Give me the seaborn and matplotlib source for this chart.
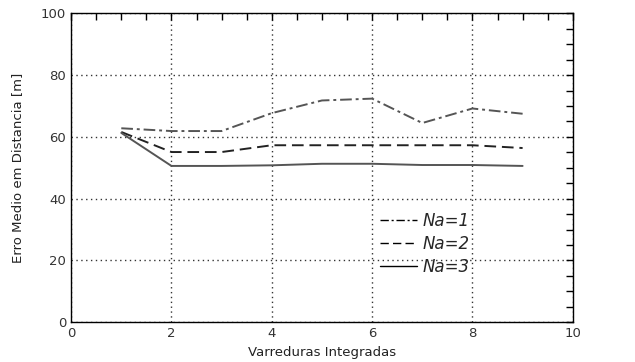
import matplotlib as mpl
import matplotlib.pyplot as plt
import pandas as pd
import seaborn as sns
from matplotlib.ticker import MultipleLocator

sns.set_theme(style="white")
plt.rcParams['font.family'] = ['DejaVu Sans']

varreduras = [1, 2, 3, 4, 5, 6, 7, 8, 9]
na1 = [62.8, 61.9, 61.9, 67.7, 71.8, 72.4, 64.5, 69.2, 67.5]
na2 = [61.6, 55.1, 55.1, 57.3, 57.3, 57.3, 57.3, 57.3, 56.4]
na3 = [61.3, 50.6, 50.6, 50.8, 51.3, 51.3, 50.9, 50.9, 50.6]
labels = ['Na=1', 'Na=2', 'Na=3']

series = {'Na=1': na1, 'Na=2': na2, 'Na=3': na3}
styles = {'Na=1': ((0, (6, 2, 1.5, 2)), '#555555'),
          'Na=2': ((0, (6, 3)), '#222222'),
          'Na=3': ('-', '#555555')}

df = pd.concat([pd.DataFrame({'x': varreduras, 'y': v, 'serie': k}) for k, v in series.items()])

fig, ax = plt.subplots(figsize=(6.35, 3.62), dpi=100)
fig.subplots_adjust(left=0.112, right=0.902, top=0.963, bottom=0.11)

for k in labels:
    ls, c = styles[k]
    sub = df[df['serie'] == k]
    sns.lineplot(x='x', y='y', data=sub, ax=ax, color=c, linestyle=ls, linewidth=1.4, label=k)

ax.set_xlim(0, 10)
ax.set_ylim(0, 100)
ax.xaxis.set_major_locator(MultipleLocator(2))
ax.xaxis.set_minor_locator(MultipleLocator(0.5))
ax.yaxis.set_major_locator(MultipleLocator(20))
ax.yaxis.set_minor_locator(MultipleLocator(5))
ax.grid(True, which='major', color='#333333', linestyle=(0, (1, 2.5)), linewidth=1)
ax.tick_params(which='both', direction='in', top=True, right=True, length=5, width=1,
               color='black', labelsize=9.5, labelcolor='#333333')
for s in ax.spines.values():
    s.set_color('black')
    s.set_linewidth(1)

ax.set_xlabel('Varreduras Integradas', fontsize=9.5, labelpad=4, color='#222222')
ax.set_ylabel('Erro Medio em Distancia [m]', fontsize=9.5, labelpad=12, color='#222222')

leg = ax.legend(loc='upper left', bbox_to_anchor=(0.6, 0.385), frameon=False,
                prop={'style': 'italic', 'size': 12}, handlelength=2.2,
                handletextpad=0.3, labelspacing=0.3, borderpad=0)
for h in leg.get_lines():
    h.set_color('black')
    h.set_linewidth(1)

plt.savefig('out.png', dpi=100)
